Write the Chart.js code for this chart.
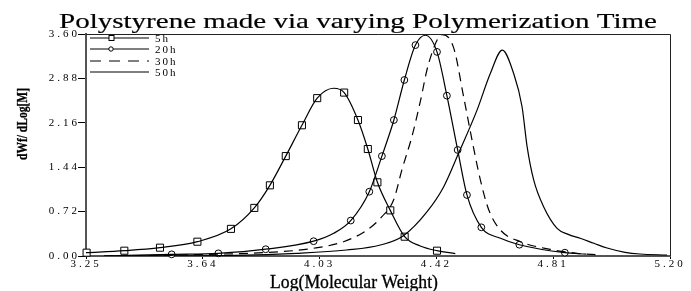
<!DOCTYPE html>
<html>
<head>
<meta charset="utf-8">
<script src="https://cdn.jsdelivr.net/npm/chart.js@4.4.1/dist/chart.umd.min.js"></script>
<style>
  html, body { margin: 0; padding: 0; background: #fff; }
  #wrap { width: 691px; height: 291px; }
</style>
</head>
<body>
<div id="wrap"><canvas id="chart" width="691" height="291"></canvas></div>
<script>
// ---- data ----
const titleText = 'Polystyrene made via varying Polymerization Time';
const xLabel = 'Log(Molecular Weight)';
const yLabel = 'dWf/ dLog[M]';
const seriesNames = ['5h', '20h', '30h', '50h'];
const xTicks = [3.25, 3.64, 4.03, 4.42, 4.81, 5.20];
const yTicks = [0.00, 0.72, 1.44, 2.16, 2.88, 3.60];

// curves
const x5h = [3.25, 3.378, 3.497, 3.622, 3.734, 3.812, 3.864, 3.917, 3.971, 4.022, 4.077, 4.112, 4.158, 4.191, 4.223, 4.266, 4.314, 4.366, 4.422, 4.483];
const y5h = [0.054, 0.086, 0.135, 0.232, 0.44, 0.78, 1.146, 1.62, 2.12, 2.56, 2.72, 2.65, 2.205, 1.735, 1.195, 0.74, 0.313, 0.162, 0.086, 0.04];

const x20h = [3.31, 3.536, 3.692, 3.85, 4.01, 4.077, 4.134, 4.196, 4.238, 4.278, 4.313, 4.35, 4.383, 4.422, 4.455, 4.491, 4.522, 4.57, 4.634, 4.697, 4.849, 4.92];
const y20h = [0.0, 0.027, 0.043, 0.11, 0.24, 0.368, 0.575, 1.043, 1.62, 2.205, 2.854, 3.42, 3.58, 3.31, 2.60, 1.72, 0.99, 0.465, 0.287, 0.183, 0.054, 0.03];

const x30h = [3.31, 3.6, 3.898, 4.01, 4.11, 4.188, 4.238, 4.277, 4.305, 4.339, 4.366, 4.394, 4.44, 4.478, 4.511, 4.539, 4.567, 4.595, 4.634, 4.70, 4.80, 4.89, 4.96];
const y30h = [0.0, 0.02, 0.07, 0.125, 0.232, 0.42, 0.637, 0.908, 1.40, 1.95, 2.5, 3.12, 3.59, 3.37, 2.58, 1.88, 1.23, 0.746, 0.42, 0.232, 0.108, 0.043, 0.02];

const x50h = [3.40, 3.75, 3.954, 4.12, 4.233, 4.31, 4.389, 4.444, 4.494, 4.556, 4.60, 4.64, 4.678, 4.706, 4.723, 4.745, 4.778, 4.823, 4.86, 4.90, 4.946, 4.99, 5.05, 5.10, 5.19];
const y50h = [0.0, 0.01, 0.043, 0.097, 0.178, 0.33, 0.72, 1.12, 1.665, 2.37, 2.96, 3.34, 2.96, 2.42, 1.77, 1.23, 0.80, 0.449, 0.35, 0.287, 0.206, 0.13, 0.06, 0.032, 0.016];

// marker points
const m5hX = [3.252, 3.378, 3.497, 3.622, 3.734, 3.812, 3.864, 3.917, 3.971, 4.022, 4.112, 4.158, 4.191, 4.223, 4.266, 4.314, 4.422];
const m5hY = [0.054, 0.086, 0.135, 0.232, 0.44, 0.78, 1.146, 1.62, 2.12, 2.56, 2.65, 2.205, 1.735, 1.195, 0.74, 0.313, 0.086];
const m20hX = [3.536, 3.692, 3.85, 4.01, 4.134, 4.196, 4.238, 4.278, 4.313, 4.35, 4.422, 4.455, 4.491, 4.522, 4.57, 4.697, 4.849];
const m20hY = [0.027, 0.043, 0.11, 0.24, 0.575, 1.043, 1.62, 2.205, 2.854, 3.42, 3.31, 2.60, 1.72, 0.99, 0.465, 0.183, 0.054];

const pts = (xs, ys) => xs.map((x, i) => ({ x: x, y: ys[i] }));

const serif = '"Liberation Serif", "Times New Roman", serif';

// draw text squeezed/stretched to a given width, slightly heavier like the original
function stretchText(ctx, text, cx, cy, width, font, rot, heavy) {
    ctx.save();
    ctx.letterSpacing = '0px';
    ctx.font = font;
    const w = ctx.measureText(text).width;
    ctx.translate(cx, cy);
    if (rot) ctx.rotate(rot);
    ctx.scale(width / w, 1);
    ctx.textAlign = 'center';
    ctx.textBaseline = 'alphabetic';
    ctx.fillStyle = '#000';
    ctx.fillText(text, 0, 0);
    if (heavy) {
        ctx.strokeStyle = '#000';
        ctx.lineWidth = heavy;
        ctx.strokeText(text, 0, 0);
    }
    ctx.restore();
}

const lineStyle = {
    borderColor: '#000',
    borderWidth: 1.2,
    pointRadius: 0,
    fill: false,
    cubicInterpolationMode: 'monotone'
};

// spaced out digits like the original
const spacing = {
    id: 'spacing',
    beforeDraw(chart) { chart.ctx.letterSpacing = '3px'; },
    afterDatasetsDraw(chart) { chart.ctx.letterSpacing = '0px'; }
};

const decor = {
    id: 'decor',
    afterDraw(chart) {
        const ctx = chart.ctx;
        const a = chart.chartArea;
        ctx.save();
        ctx.letterSpacing = '0px';
        // top / right frame
        ctx.strokeStyle = '#222';
        ctx.lineWidth = 1;
        ctx.beginPath();
        ctx.moveTo(a.left, a.top + 0.5);
        ctx.lineTo(a.right + 0.5, a.top + 0.5);
        ctx.lineTo(a.right + 0.5, a.bottom);
        ctx.stroke();

        stretchText(ctx, titleText, 358, 28, 598, '22px ' + serif, 0, 0.2);
        stretchText(ctx, xLabel, 354, 288, 168, '18px ' + serif, 0, 0.3);
        stretchText(ctx, yLabel, 27, 124, 72, 'bold 14px ' + serif, -Math.PI / 2, 0.3);

        // legend
        const rows = [38, 49, 61, 72];
        ctx.strokeStyle = '#000';
        ctx.fillStyle = '#000';
        rows.forEach((ry, i) => {
            ctx.save();
            ctx.lineWidth = 1.2;
            if (i === 2) ctx.setLineDash([11, 8]);
            ctx.beginPath();
            ctx.moveTo(90, ry);
            ctx.lineTo(149, ry);
            ctx.stroke();
            ctx.restore();
            if (i === 0) {
                ctx.fillStyle = '#fff';
                ctx.fillRect(109, ry - 2.5, 5, 5);
                ctx.strokeRect(109, ry - 2.5, 5, 5);
            }
            if (i === 1) {
                ctx.fillStyle = '#fff';
                ctx.beginPath();
                ctx.arc(111, ry, 2.2, 0, Math.PI * 2);
                ctx.fill();
                ctx.stroke();
            }
            ctx.fillStyle = '#000';
            ctx.letterSpacing = '2px';
            ctx.font = '11px ' + serif;
            ctx.textAlign = 'left';
            ctx.textBaseline = 'middle';
            ctx.fillText(seriesNames[i], 155, ry + 1);
            ctx.letterSpacing = '0px';
        });
        ctx.restore();
    }
};

new Chart(document.getElementById('chart'), {
    type: 'line',
    data: {
        datasets: [
            Object.assign({ label: seriesNames[0], data: pts(x5h, y5h) }, lineStyle),
            Object.assign({ label: seriesNames[1], data: pts(x20h, y20h) }, lineStyle),
            Object.assign({ label: seriesNames[2], data: pts(x30h, y30h), borderDash: [9, 6] }, lineStyle),
            Object.assign({ label: seriesNames[3], data: pts(x50h, y50h) }, lineStyle),
            {
                label: '5h markers', data: pts(m5hX, m5hY), showLine: false,
                pointStyle: 'rect', pointRadius: 5, pointBorderWidth: 1,
                pointBorderColor: '#000', pointBackgroundColor: '#fff', clip: false
            },
            {
                label: '20h markers', data: pts(m20hX, m20hY), showLine: false,
                pointStyle: 'circle', pointRadius: 3.4, pointBorderWidth: 1,
                pointBorderColor: '#000', pointBackgroundColor: '#fff', clip: false
            }
        ]
    },
    options: {
        responsive: false,
        animation: false,
        events: [],
        layout: { padding: { top: 34, right: 21, left: 0, bottom: 0 } },
        plugins: {
            legend: { display: false },
            tooltip: { enabled: false }
        },
        scales: {
            x: {
                type: 'linear',
                min: 3.25,
                max: 5.20,
                afterBuildTicks: scale => { scale.ticks = xTicks.map(v => ({ value: v })); },
                afterFit: scale => { scale.height = 35; },
                border: { color: '#555', width: 2 },
                grid: { drawOnChartArea: false, tickLength: 3, color: '#000' },
                ticks: {
                    padding: -1,
                    maxRotation: 0,
                    autoSkip: false,
                    color: '#000',
                    font: { family: serif, size: 11 },
                    callback: v => v.toFixed(2)
                }
            },
            y: {
                min: 0,
                max: 3.6,
                afterBuildTicks: scale => { scale.ticks = yTicks.map(v => ({ value: v })); },
                afterFit: scale => { scale.width = 86; },
                border: { color: '#555', width: 2 },
                grid: { drawOnChartArea: false, tickLength: 8, color: '#000' },
                ticks: {
                    padding: -2,
                    autoSkip: false,
                    color: '#000',
                    font: { family: serif, size: 11 },
                    callback: v => v.toFixed(2)
                }
            }
        }
    },
    plugins: [spacing, decor]
});
</script>
</body>
</html>
